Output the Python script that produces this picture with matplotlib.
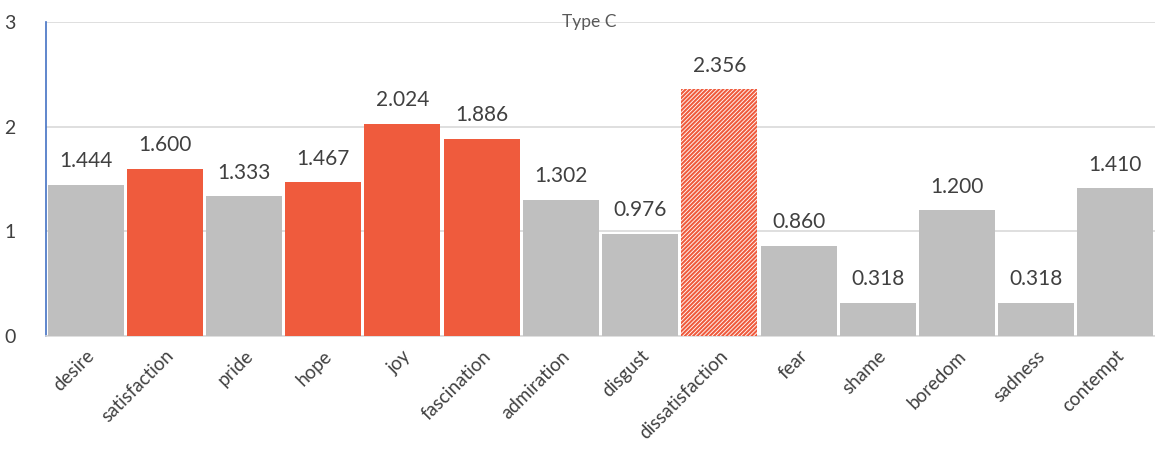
import matplotlib
matplotlib.use("Agg")
import matplotlib.pyplot as plt

categories = ["desire", "satisfaction", "pride", "hope", "joy", "fascination",
              "admiration", "disgust", "dissatisfaction", "fear", "shame",
              "boredom", "sadness", "contempt"]
values = [1.444, 1.600, 1.333, 1.467, 2.024, 1.886, 1.302, 0.976, 2.356,
          0.860, 0.318, 1.200, 0.318, 1.410]
# bar style per category: "grey", "orange" or "hatched"
styles = ["grey", "orange", "grey", "orange", "orange", "orange", "grey",
          "grey", "hatched", "grey", "grey", "grey", "grey", "grey"]
y_ticks = [0, 1, 2, 3]
title = "Type C"

GREY = "#BFBFBF"
ORANGE = "#EF5B3D"
TEXT = "#404040"

plt.rcParams["font.family"] = ["Lato", "DejaVu Sans"]
plt.rcParams["hatch.linewidth"] = 1.5

fig = plt.figure(figsize=(11.55, 4.5), dpi=100)
ax = fig.add_axes([46 / 1155, 1 - 336 / 450, 1 - 46 / 1155, (336 - 22) / 450])

x = list(range(len(categories)))
for xi, v, s in zip(x, values, styles):
    if s == "hatched":
        ax.bar(xi, v, width=0.96, facecolor="white", edgecolor=ORANGE,
               hatch="////////", linewidth=0, zorder=3)
    else:
        ax.bar(xi, v, width=0.96, color=GREY if s == "grey" else ORANGE,
               linewidth=0, zorder=3)
    ax.annotate(f"{v:.3f}", (xi, v), xytext=(0, 10), textcoords="offset points",
                ha="center", va="bottom", fontsize=15, color=TEXT)

ax.set_xlim(-0.5, len(categories) - 0.5)
ax.set_ylim(0, 3)
ax.set_yticks(y_ticks)
ax.set_yticklabels([str(t) for t in y_ticks], fontsize=14, color=TEXT)
ax.tick_params(axis="y", length=0, pad=22)
ax.set_xticks(x)
ax.set_xticklabels(categories, rotation=45, ha="right", rotation_mode="anchor",
                   fontsize=13.5, color=TEXT)
ax.tick_params(axis="x", length=0, pad=8)

ax.grid(axis="y", color="#D9D9D9", linewidth=1.2, zorder=0)
ax.set_axisbelow(True)
for side in ("top", "right"):
    ax.spines[side].set_visible(False)
ax.spines["left"].set_color("#4472C4")
ax.spines["left"].set_linewidth(1.2)
ax.spines["bottom"].set_color("#D9D9D9")
ax.spines["bottom"].set_linewidth(1.2)

ax.text(0.49, 1.0, title, transform=ax.transAxes, ha="center", va="center",
        fontsize=12.5, color="#595959", zorder=5)

fig.savefig("out.png", dpi=100)
